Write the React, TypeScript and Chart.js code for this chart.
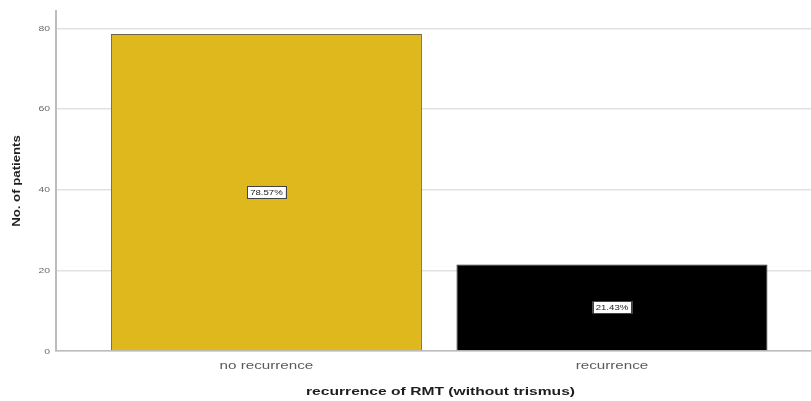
import React, { useEffect, useRef } from "react";
import { Chart, registerables } from "chart.js";

Chart.register(...registerables);

const categories = ["no recurrence", "recurrence"];
const values = [78.57, 21.43];
const valueLabels = ["78.57%", "21.43%"];
const barColors = ["#DFB81E", "#000000"];
const yTicks = [0, 20, 40, 60, 80];
const xTitle = "recurrence of RMT (without trismus)";
const yTitle = "No. of patients";

const FONT = "'Liberation Sans', Arial, sans-serif";

function stretchedText(ctx: any, text: string, x: number, y: number, sx: number, align: string, rot = 0) {
  ctx.save();
  ctx.translate(x, y);
  if (rot) ctx.rotate(rot);
  ctx.scale(sx, 1);
  ctx.textAlign = align;
  ctx.textBaseline = "middle";
  ctx.fillText(text, 0, 0);
  ctx.restore();
}

const textPlugin = {
  id: "stretchedText",
  afterDraw(chart: any) {
    const ctx = chart.ctx;
    const xs = chart.scales.x;
    const ys = chart.scales.y;
    const area = chart.chartArea;
    ctx.save();
    // x tick labels
    ctx.fillStyle = "#5a5a5a";
    ctx.font = `11px ${FONT}`;
    categories.forEach((c, i) => {
      stretchedText(ctx, c, xs.getPixelForValue(i + 1), area.bottom + 15, 1.38, "center");
    });
    // y tick labels
    ctx.fillStyle = "#6a6a6a";
    ctx.font = `8px ${FONT}`;
    yTicks.forEach((v) => {
      stretchedText(ctx, String(v), area.left - 6, ys.getPixelForValue(v) + (v === 0 ? 1 : 0), 1.3, "right");
    });
    // x title
    ctx.fillStyle = "#1e1e1e";
    ctx.font = `bold 11px ${FONT}`;
    stretchedText(ctx, xTitle, (area.left + area.right) / 2 + 7, 392, 1.42, "center");
    // y title
    stretchedText(ctx, yTitle, 17, (area.top + area.bottom) / 2, 1.2, "center", -Math.PI / 2);
    ctx.restore();
  },
};

const labelPlugin = {
  id: "boxLabels",
  afterDatasetsDraw(chart: any) {
    const ctx = chart.ctx;
    const meta = chart.getDatasetMeta(0);
    ctx.save();
    ctx.font = `8px ${FONT}`;
    meta.data.forEach((bar: any, i: number) => {
      const cx = bar.x;
      const cy = (bar.y + bar.base) / 2;
      const text = valueLabels[i];
      const w = ctx.measureText(text).width * 1.2 + 6;
      const h = 12;
      ctx.fillStyle = "#ffffff";
      ctx.fillRect(cx - w / 2, cy - h / 2, w, h);
      ctx.strokeStyle = "#444444";
      ctx.lineWidth = 1;
      ctx.strokeRect(Math.round(cx - w / 2) + 0.5, Math.round(cy - h / 2) + 0.5, Math.round(w), h);
      ctx.fillStyle = "#222222";
      stretchedText(ctx, text, cx, cy + 0.5, 1.2, "center");
    });
    ctx.restore();
  },
};

export default function App() {
  const ref = useRef<HTMLCanvasElement | null>(null);
  useEffect(() => {
    if (!ref.current) return;
    const chart = new Chart(ref.current, {
      type: "bar",
      data: {
        datasets: [
          {
            data: values.map((v, i) => ({ x: i + 1, y: v })),
            backgroundColor: barColors,
            borderColor: ["#6b6440", "#222222"],
            borderWidth: 1,
            categoryPercentage: 1,
            barPercentage: 0.9,
          },
        ],
      },
      options: {
        animation: false,
        responsive: false,
        maintainAspectRatio: false,
        layout: { padding: { top: 11, right: 0, bottom: 0, left: 0 } },
        plugins: { legend: { display: false }, tooltip: { enabled: false } },
        scales: {
          x: {
            type: "linear",
            offset: false,
            min: 0.391,
            max: 2.576,
            afterBuildTicks: (scale: any) => {
              scale.ticks = categories.map((_, i) => ({ value: i + 1 }));
            },
            afterFit: (scale: any) => {
              scale.height = 50;
            },
            grid: { display: false, offset: false, drawTicks: false, tickLength: 0 },
            border: { display: true, color: "#bcbcbc", width: 1.5 },
            ticks: { display: false },
            title: { display: false },
          },
          y: {
            min: 0,
            max: 84.3,
            afterBuildTicks: (scale: any) => {
              scale.ticks = yTicks.map((v) => ({ value: v }));
            },
            afterFit: (scale: any) => {
              scale.width = 56;
            },
            grid: { color: "#e2e2e2", lineWidth: 1.5, drawTicks: false, tickLength: 0 },
            border: { display: true, color: "#bcbcbc", width: 2 },
            ticks: { display: false },
            title: { display: false },
          },
        },
      } as any,
      plugins: [labelPlugin, textPlugin],
    });
    return () => chart.destroy();
  }, []);
  return (
    <div style={{ position: "fixed", left: 0, top: 0, width: 811, height: 401, background: "#fff" }}>
      <canvas ref={ref} width={811} height={401} style={{ width: 811, height: 401 }} />
    </div>
  );
}
